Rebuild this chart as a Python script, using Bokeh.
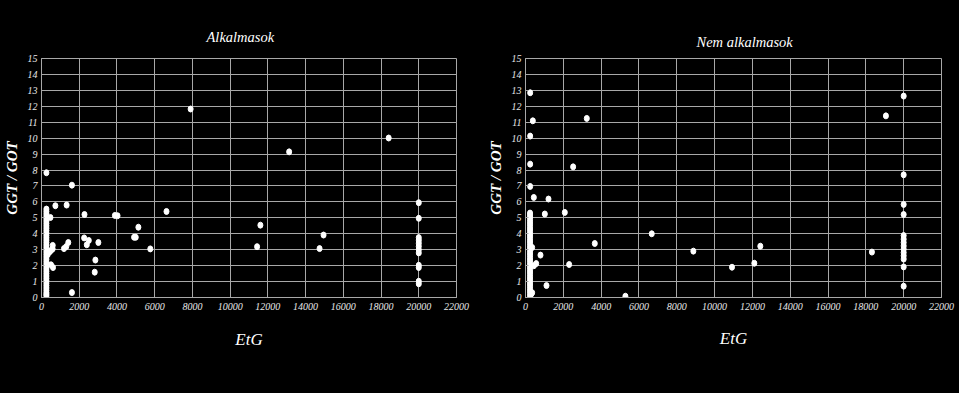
from bokeh.plotting import figure
from bokeh.layouts import row
from bokeh.models import Range1d, ColumnDataSource, FixedTicker
from bokeh.embed import file_html
from bokeh.resources import INLINE

# ---------------- data ----------------
x_ticks = [0, 2000, 4000, 6000, 8000, 10000, 12000, 14000, 16000, 18000, 20000, 22000]
y_ticks = list(range(0, 16))

# Alkalmasok
alk_col_y = [0.1, 0.2, 0.3, 0.45, 0.6, 0.75, 0.9, 1.05, 1.2, 1.35, 1.5, 1.65, 1.8, 1.95,
             2.1, 2.25, 2.4, 2.55, 2.7, 2.85, 3.0, 3.15, 3.3, 3.45, 3.6, 3.75, 3.9, 4.05,
             4.2, 4.35, 4.5, 4.65, 4.8, 4.95, 5.1, 5.25, 5.4, 5.55]
alk_col_x = [260] * len(alk_col_y)
alk_oth_x = [260, 473, 330, 420, 505, 595, 590, 505, 611, 736, 1332, 1613, 1192, 1315, 1420,
             1613, 2279, 2261, 2401, 2507, 3015, 2857, 2822, 3891, 4032, 4908, 4996, 5136,
             5767, 6626, 7905, 11429, 11604, 13129, 14741, 14952, 18405]
alk_oth_y = [7.83, 5.02, 2.7, 2.85, 2.95, 3.27, 3.05, 2.05, 1.88, 5.76, 5.8, 7.05, 3.07, 3.2, 3.45,
             0.31, 5.21, 3.74, 3.31, 3.58, 3.45, 2.35, 1.59, 5.15, 5.13, 3.78, 3.78, 4.41,
             3.05, 5.4, 11.83, 3.19, 4.54, 9.14, 3.07, 3.92, 10.01]
alk_max_y = [5.95, 4.97, 3.76, 3.6, 3.41, 3.21, 3.0, 2.8, 2.02, 1.88, 1.02, 0.86]
alk_max_x = [20000] * len(alk_max_y)

# Nem alkalmasok
nem_col_y = [0.1, 0.25, 0.4, 0.55, 0.7, 0.85, 1.0, 1.15, 1.3, 1.45, 1.6, 1.75, 1.9, 2.05,
             2.2, 2.35, 2.5, 2.65, 2.8, 2.95, 3.1, 3.25, 3.4, 3.55, 3.7, 3.85, 4.0, 4.15,
             4.3, 4.45, 4.6, 4.75, 4.9, 5.05, 5.2, 5.3]
nem_col_x = [240] * len(nem_col_y)
nem_oth_x = [247, 387, 247, 247, 247, 440, 1216, 1022, 2079, 2520, 3241, 3664, 2308, 793,
             1110, 564, 440, 352, 352, 300, 5284, 6676, 8878, 10921, 12101, 12418, 18320, 19060]
nem_oth_y = [12.85, 11.09, 10.13, 8.37, 6.97, 6.28, 6.18, 5.24, 5.34, 8.2, 11.24, 3.39, 2.07, 2.66,
             0.75, 2.13, 1.99, 3.14, 0.3, 0.21, 0.08, 4.0, 2.91, 1.9, 2.15, 3.22, 2.85, 11.4]
nem_max_y = [12.64, 7.7, 5.84, 5.21, 3.89, 3.66, 3.45, 3.24, 3.03, 2.82, 2.62, 2.41, 1.92, 0.71]
nem_max_x = [20000] * len(nem_max_y)

FONT = "'Liberation Serif', 'Times New Roman', serif"
GRID = "#a8a8a8"
TXT = "#e8e8e8"


def make(title, xs, ys, width, borders, title_offset, title_standoff, xlabel_standoff):
    left, right, top, bottom = borders
    p = figure(width=width, height=393, output_backend="svg", toolbar_location=None,
               x_range=Range1d(0, 22000), y_range=Range1d(0, 15),
               min_border_left=left, min_border_right=right,
               min_border_top=top, min_border_bottom=bottom,
               background_fill_color="black", border_fill_color="black",
               outline_line_color=GRID, outline_line_width=1)
    p.title.text = title
    p.title.align = "left"
    p.title.offset = title_offset
    p.title.text_font = FONT
    p.title.text_font_style = "italic"
    p.title.text_font_size = "14.5px"
    p.title.text_color = "white"
    p.title.standoff = title_standoff

    p.xaxis.ticker = FixedTicker(ticks=x_ticks)
    p.yaxis.ticker = FixedTicker(ticks=y_ticks)
    for ax in (p.xaxis[0], p.yaxis[0]):
        ax.axis_line_color = GRID
        ax.major_tick_line_color = GRID
        ax.minor_tick_line_color = None
        ax.major_tick_out = 0
        ax.major_tick_in = 3
        ax.major_label_text_font = FONT
        ax.major_label_text_font_style = "italic"
        ax.major_label_text_font_size = "10px"
        ax.major_label_text_color = TXT
        ax.axis_label_text_font = FONT
        ax.axis_label_text_color = "white"
    p.xaxis.major_label_standoff = 5
    p.yaxis.major_label_standoff = 4
    p.xaxis.axis_label = "EtG"
    p.xaxis.axis_label_text_font_style = "italic"
    p.xaxis.axis_label_text_font_size = "17px"
    p.xaxis.axis_label_standoff = xlabel_standoff
    p.yaxis.axis_label = "GGT / GOT"
    p.yaxis.axis_label_text_font_style = "bold italic"
    p.yaxis.axis_label_text_font_size = "15px"
    p.yaxis.axis_label_standoff = 5

    p.xgrid.ticker = FixedTicker(ticks=x_ticks)
    p.ygrid.ticker = FixedTicker(ticks=y_ticks)
    p.grid.grid_line_color = GRID
    p.grid.grid_line_width = 1

    src = ColumnDataSource(dict(x=xs, y=ys))
    p.ellipse(x="x", y="y", width=5, height=6, width_units="screen", height_units="screen",
              source=src, fill_color="white", line_color="white")
    return p


p1 = make("Alkalmasok", alk_col_x + alk_oth_x + alk_max_x, alk_col_y + alk_oth_y + alk_max_y,
          480, (38, 24, 56, 92), 165, 27, 17)
p2 = make("Nem alkalmasok", nem_col_x + nem_oth_x + nem_max_x, nem_col_y + nem_oth_y + nem_max_y,
          479, (45, 18, 58, 96), 171, 17, 16)

layout = row(p1, p2)
layout.styles = {"background-color": "black"}
open("out.html", "w").write(file_html(layout, INLINE))
